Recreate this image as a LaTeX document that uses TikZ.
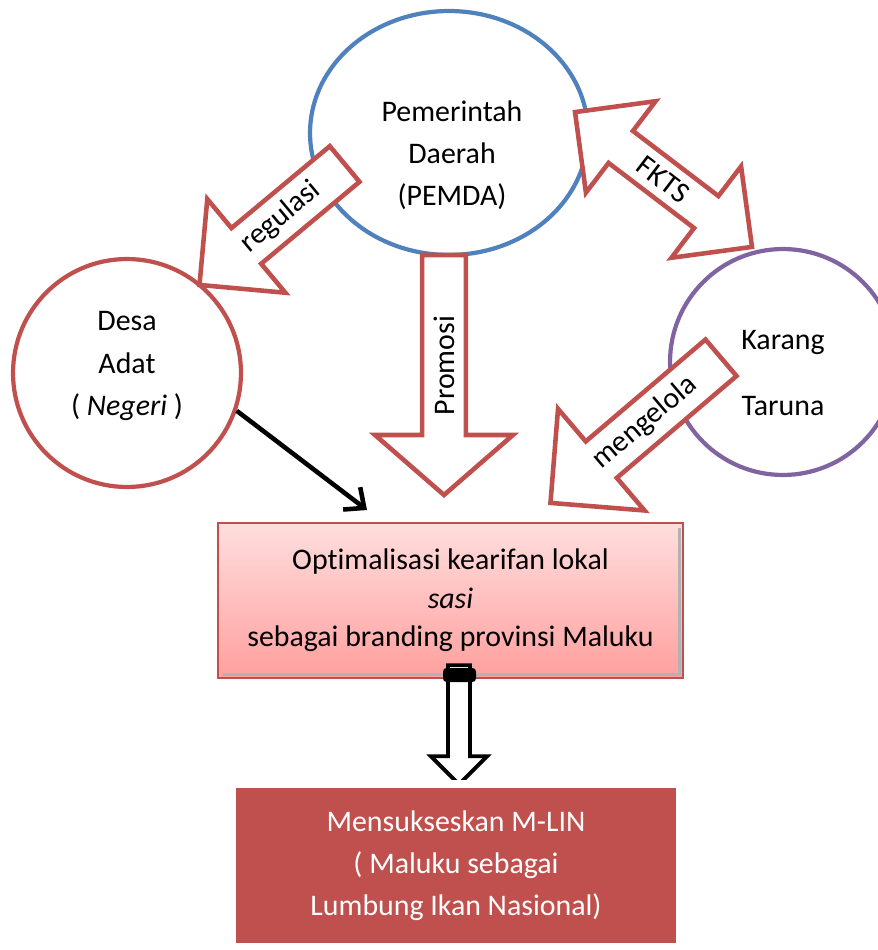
\documentclass[tikz,border=0pt]{standalone}
\usepackage{fontspec}
\setmainfont{Carlito}[Ligatures=NoCommon]
\usetikzlibrary{shapes.geometric,shapes.arrows,arrows.meta,shadows}

\definecolor{merah}{RGB}{192,80,77}
\definecolor{biru}{RGB}{79,129,189}
\definecolor{ungu}{RGB}{128,100,162}
\definecolor{pinkatas}{RGB}{255,222,222}
\definecolor{pinkbawah}{RGB}{255,160,158}

\begin{document}
\begin{tikzpicture}[x=0.02cm, y=-0.02cm,
            every node/.style = {font=\fontsize{17}{24}\selectfont, align=center},
            lingkaran/.style = {shape=circle, line width=2.4pt, fill=white, inner sep=0pt},
            panah/.style = {shape=single arrow, draw=merah, fill=white, line width=2.6pt,
                            single arrow head indent=0pt, inner sep=2pt},
            panahdua/.style = {shape=double arrow, draw=merah, fill=white, line width=2.6pt,
                            double arrow head indent=0pt, inner sep=2pt}]
    \useasboundingbox (0,0) rectangle (877,950);

    \node[lingkaran, shape=ellipse, draw=biru, minimum width=5.56cm, minimum height=4.88cm] (pemda) at (449,133) {};
    \node[lingkaran, draw=merah, minimum size=4.56cm] (desa) at (127,373) {};
    \node[lingkaran, draw=ungu, minimum size=4.52cm] (karang) at (783,362) {};
    \node (pemdateks) at (452,155) {Pemerintah\\Daerah\\(PEMDA)};
    \node (desateks) at (127,366) {Desa\\Adat\\( \textit{Negeri} )};
    \node (karangteks) at (783,373) {Karang\\[14pt]Taruna};

    \node[panah, rotate=39.8, shape border rotate=180, minimum height=3.78cm, minimum width=2.44cm,
          single arrow head extend=0.61cm, anchor=tip] (regulasi) at (197,287) {regulasi};
    \node[panah, rotate=90, shape border rotate=180, minimum height=4.8cm, minimum width=2.76cm,
          single arrow head extend=0.7cm, single arrow tip angle=98, anchor=tip] (promosi) at (444,498) {Promosi};
    \node[panahdua, rotate=-37.3, minimum height=4.45cm, minimum width=2.3cm,
          double arrow head extend=0.58cm] (fkts) at (663.5,179.5) {FKTS};
    \node[panah, rotate=40.4, shape border rotate=180, minimum height=4.48cm, minimum width=2.67cm,
          single arrow head extend=0.67cm, anchor=tip] (mengelola) at (548,505) {mengelola};

    \node[draw=merah, line width=1.2pt, top color=pinkatas, bottom color=pinkbawah,
          minimum width=9.3cm, minimum height=3.1cm, font=\fontsize{17}{22}\selectfont,
          path picture={\draw[black!30, line width=1.5pt]
              ([xshift=3pt,yshift=2pt]path picture bounding box.south west) -|
              ([xshift=-2pt,yshift=-3pt]path picture bounding box.north east);}]
          (opt) at (450.5,600.5) {Optimalisasi kearifan lokal\\\textit{sasi}\\sebagai branding provinsi Maluku};

    \coordinate (ujungdesa) at (367,510);
    \draw[line width=2.6pt, -{Straight Barb[length=9pt, width=16pt]}] (desa.-19) -- (ujungdesa);

    \node[shape=single arrow, draw=black, fill=white, line width=2.2pt, rotate=-90,
          single arrow head indent=0pt, minimum height=2.38cm, minimum width=1.12cm,
          single arrow head extend=0.24cm, anchor=tip] (turun) at (459,787) {};
    \fill[rounded corners=2pt] (443,668) rectangle (476,682);

    \node[fill=merah, draw=white, line width=4.5pt, text=white, minimum width=8.96cm, minimum height=3.26cm,
          general shadow={fill=black!20, shadow scale=1.02}] (mlin) at (456,865.5)
          {Mensukseskan M-LIN\\( Maluku sebagai\\Lumbung Ikan Nasional)};
\end{tikzpicture}
\end{document}
